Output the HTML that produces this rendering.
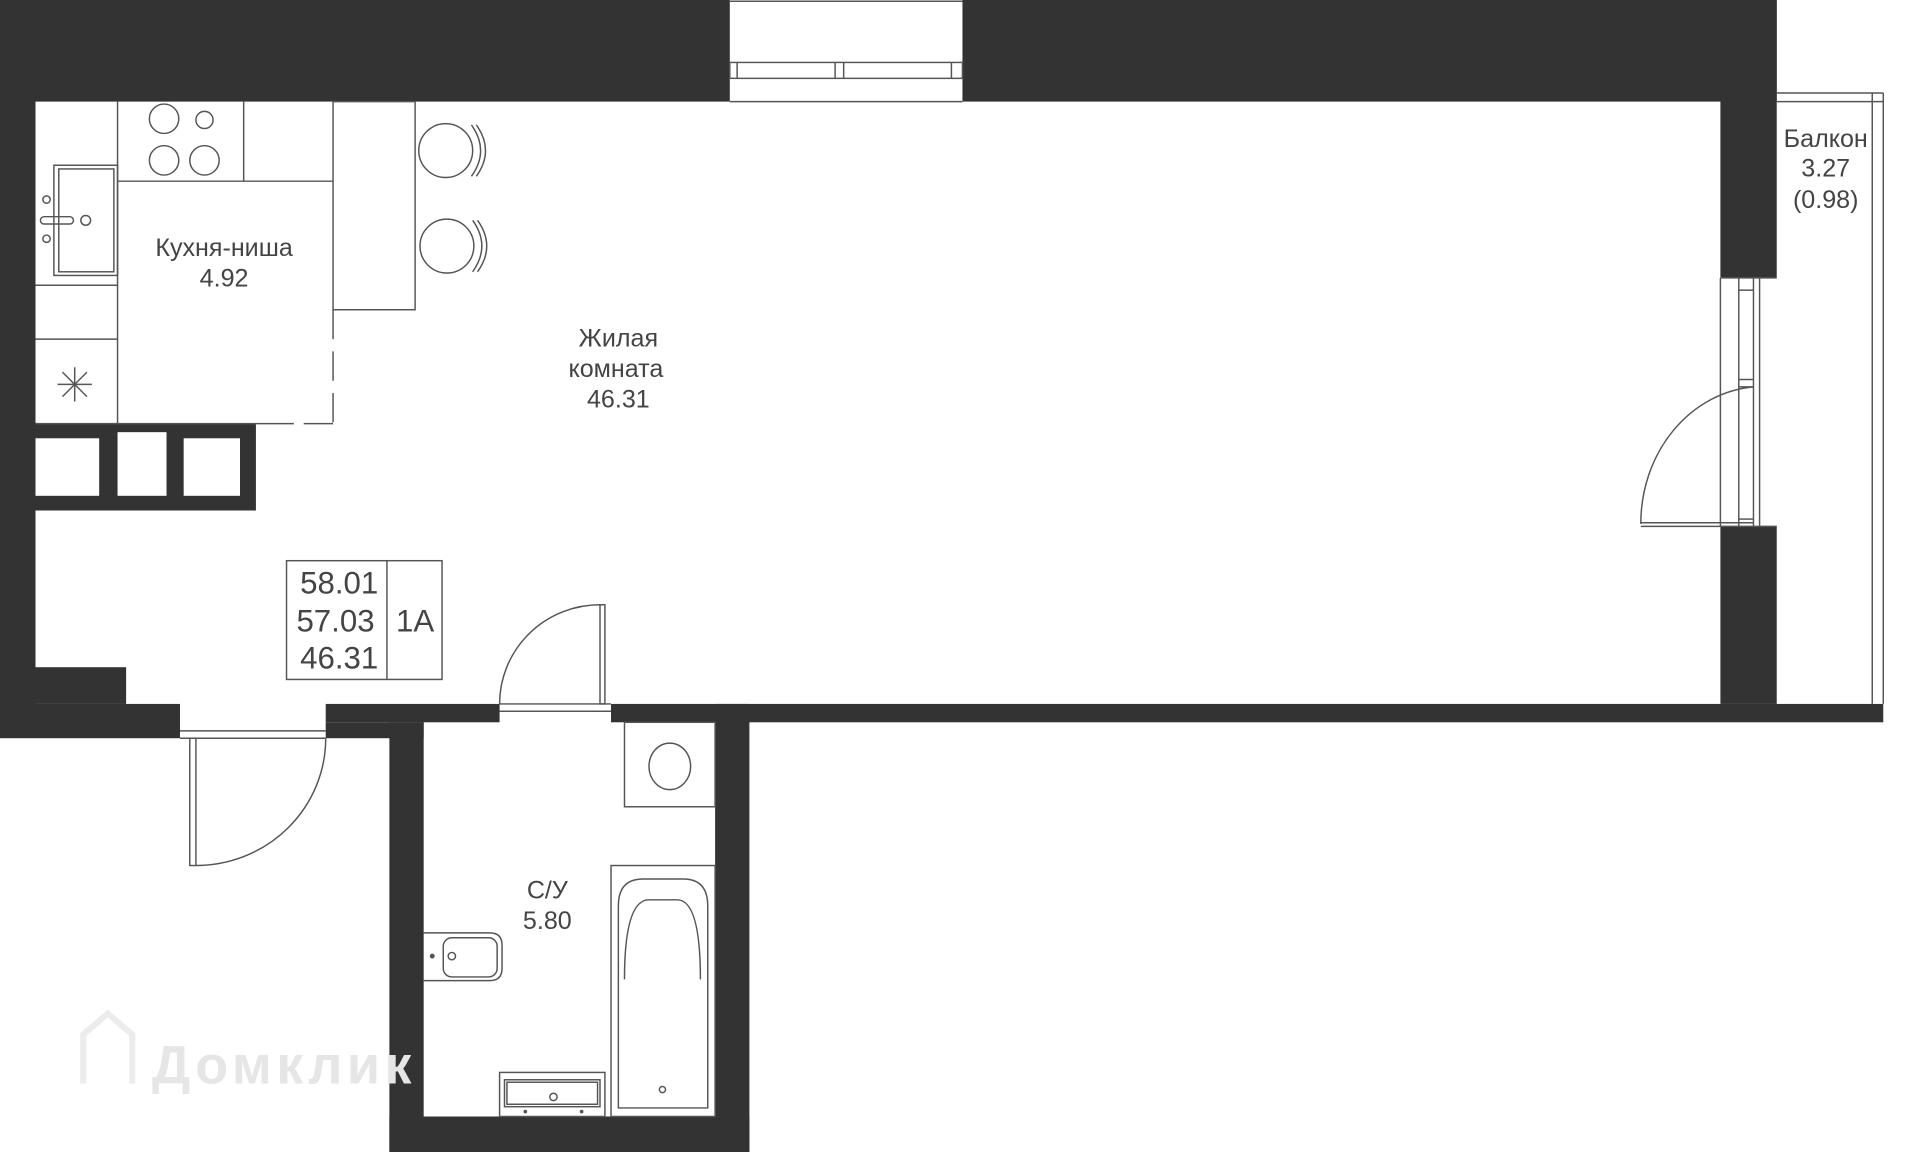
<!DOCTYPE html>
<html><head><meta charset="utf-8"><style>
html,body{margin:0;padding:0;background:#fff;}
svg{display:block;}
text{font-family:"Liberation Sans",sans-serif;fill:#444;text-anchor:middle;}
</style></head><body>
<svg width="1920" height="1152" viewBox="0 0 1568 941" preserveAspectRatio="none" xmlns="http://www.w3.org/2000/svg">
<g fill="#333">
<rect x="0" y="0" width="596" height="83"/>
<rect x="786" y="0" width="665" height="83"/>
<rect x="1405" y="0" width="46" height="227"/>
<rect x="1405" y="430" width="46" height="145"/>
<rect x="0" y="0" width="29" height="575"/>
<rect x="0" y="545" width="103" height="30"/>
<rect x="0" y="575" width="147" height="28"/>
<rect x="266" y="575" width="142" height="15"/>
<rect x="266" y="590" width="80" height="13"/>
<rect x="318" y="590" width="28" height="351"/>
<rect x="318" y="912" width="294" height="29"/>
<rect x="584" y="575" width="28" height="366"/>
<rect x="499" y="575" width="1039" height="15"/>
<rect x="0" y="346" width="209" height="71"/>
</g>
<g fill="#fff">
<rect x="29" y="358" width="52" height="47"/>
<rect x="96" y="353" width="40" height="52"/>
<rect x="150" y="358" width="46" height="47"/>
</g>
<g fill="none" stroke="#555" stroke-width="1.2">
<line x1="596" y1="1" x2="786" y2="1"/>
<rect x="596" y="51" width="190" height="13"/>
<line x1="602" y1="51" x2="602" y2="64"/><line x1="682" y1="51" x2="682" y2="64"/>
<line x1="689" y1="51" x2="689" y2="64"/><line x1="777" y1="51" x2="777" y2="64"/>
<line x1="596" y1="83" x2="786" y2="83"/>
<line x1="1451" y1="76" x2="1538" y2="76"/>
<line x1="1451" y1="83" x2="1538" y2="83"/>
<line x1="1529" y1="76" x2="1529" y2="575"/>
<line x1="1538" y1="76" x2="1538" y2="575"/>
<line x1="1405" y1="227" x2="1451" y2="227"/>
<line x1="1405" y1="227" x2="1405" y2="430"/>
<line x1="1420" y1="227" x2="1420" y2="430"/>
<line x1="1432" y1="227" x2="1432" y2="430"/>
<line x1="1437" y1="227" x2="1437" y2="430"/>
<line x1="1420" y1="237" x2="1432" y2="237"/>
<line x1="1420" y1="310" x2="1432" y2="310"/>
<line x1="1420" y1="316" x2="1432" y2="316"/>
<line x1="1420" y1="424" x2="1432" y2="424"/>
<line x1="1340" y1="427" x2="1432" y2="427"/>
<line x1="1340" y1="430" x2="1451" y2="430"/>
<path d="M1340,428 A100,112 0 0 1 1432,316"/>
<line x1="147" y1="597" x2="266" y2="597"/><line x1="147" y1="603" x2="266" y2="603"/>
<rect x="155" y="603" width="5" height="104"/>
<path d="M160,707 A106,104 0 0 0 266,603"/>
<line x1="408" y1="575" x2="499" y2="575"/><line x1="408" y1="581" x2="499" y2="581"/>
<rect x="490" y="494" width="4" height="81"/>
<path d="M408,575 A82,81 0 0 1 490,494"/>
<line x1="96" y1="83" x2="96" y2="346"/>
<line x1="96" y1="148" x2="272" y2="148"/>
<line x1="199" y1="83" x2="199" y2="148"/>
<rect x="272" y="83" width="67" height="170"/>
<line x1="272" y1="253" x2="272" y2="346" stroke-dasharray="24,10"/>
<line x1="29" y1="346" x2="240" y2="346"/>
<line x1="248" y1="346" x2="272" y2="346"/>
<line x1="29" y1="233" x2="96" y2="233"/>
<line x1="29" y1="277" x2="96" y2="277"/>
<rect x="44" y="135" width="52" height="90"/>
<rect x="48" y="138" width="45" height="84"/>
<rect x="33" y="177" width="27" height="6" rx="3"/>
<circle cx="38" cy="163" r="3"/><circle cx="38" cy="195" r="3"/><circle cx="70" cy="180" r="4"/>
<circle cx="134" cy="97" r="12"/><circle cx="167" cy="98" r="7"/>
<circle cx="134" cy="131" r="12"/><circle cx="167" cy="131" r="12"/>
<line x1="47" y1="314" x2="75" y2="314"/><line x1="61" y1="300" x2="61" y2="328"/>
<line x1="51" y1="304" x2="71" y2="324"/><line x1="71" y1="304" x2="51" y2="324"/>
<circle cx="364" cy="123" r="22"/><circle cx="365" cy="201" r="22"/>
<path d="M385,102 Q400,123 385,144 M389,102 Q404,123 389,144"/>
<path d="M386,180 Q401,201 386,222 M390,180 Q405,201 390,222"/>
<rect x="234" y="458" width="127" height="97"/>
<line x1="316" y1="458" x2="316" y2="555"/>
<rect x="510" y="590" width="74" height="69"/>
<ellipse cx="547" cy="626" rx="17" ry="19"/>
<rect x="499" y="707" width="85" height="205"/>
<path d="M505,905 L505,740 Q505,718 525,718 L558,718 Q578,718 578,740 L578,905 Z"/>
<path d="M510,800 Q510,735 530,735 L553,735 Q572,735 572,800"/>
<circle cx="541" cy="890" r="2.5"/>
<path d="M346,762 L400,762 Q410,762 410,772 L410,791 Q410,801 400,801 L346,801"/>
<rect x="362" y="766" width="44" height="32" rx="7"/>
<circle cx="369" cy="781" r="3"/>
<rect x="408" y="876" width="86" height="36"/>
<rect x="412" y="882" width="78" height="22"/>
<rect x="414" y="884" width="74" height="18"/>
<circle cx="452" cy="896" r="3"/>
</g>
<g fill="#555"><circle cx="353" cy="781" r="2"/><circle cx="429" cy="908" r="1.5"/><circle cx="475" cy="908" r="1.5"/></g>
<text x="183" y="209" font-size="20.5">Кухня-ниша</text>
<text x="183" y="234" font-size="20.5">4.92</text>
<text x="505" y="283" font-size="20.5">Жилая</text>
<text x="503" y="308" font-size="20.5">комната</text>
<text x="505" y="333" font-size="20.5">46.31</text>
<text x="1491" y="120" font-size="20.5">Балкон</text>
<text x="1491" y="144" font-size="20.5">3.27</text>
<text x="1491" y="170" font-size="20.5">(0.98)</text>
<text x="277" y="485" font-size="25.5">58.01</text>
<text x="274" y="516" font-size="25.5">57.03</text>
<text x="277" y="546" font-size="25.5">46.31</text>
<text x="339" y="516" font-size="25.5">1А</text>
<text x="447" y="734" font-size="20.5">С/У</text>
<text x="447" y="759" font-size="20.5">5.80</text>
<g fill="none" stroke="#ececec" stroke-width="5"><path d="M68,885 L68,845 L88,828 L108,845 L108,885"/></g>
<text x="124" y="885" font-size="44" textLength="212" style="fill:#e6e6e6;text-anchor:start;font-weight:bold">Домклик</text>
</svg>
</body></html>
